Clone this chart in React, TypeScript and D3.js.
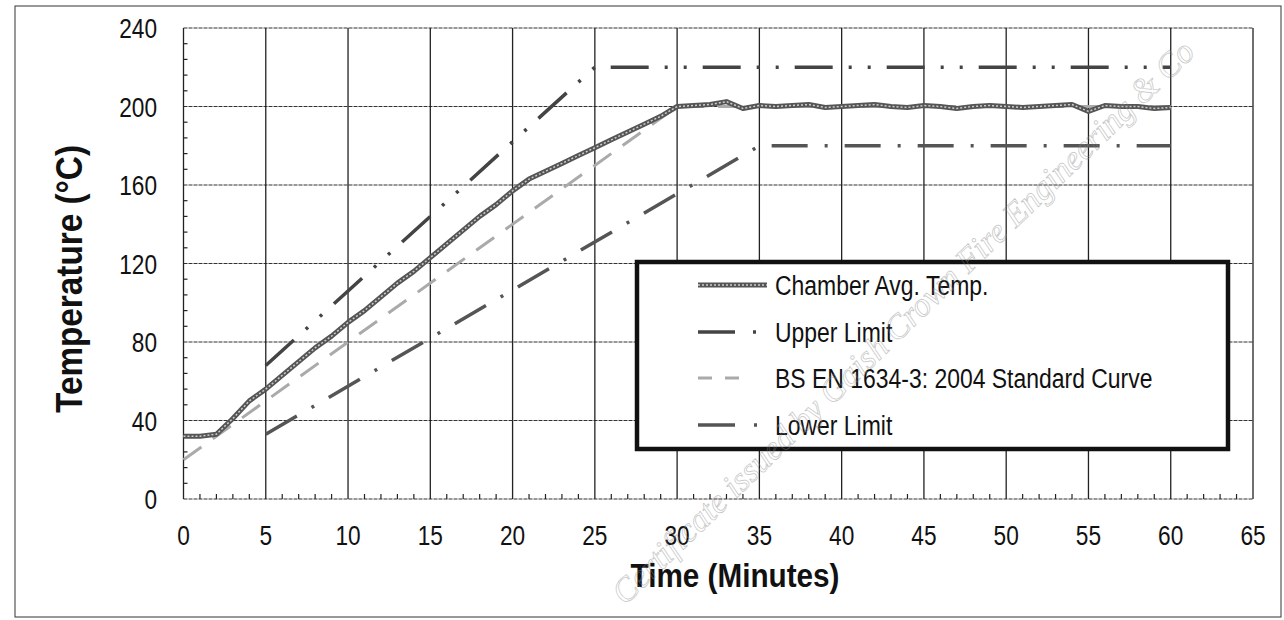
import * as d3 from "d3";
import React from "react";

// time axis in minutes, temperature in degrees C
const xTicks = [0, 5, 10, 15, 20, 25, 30, 35, 40, 45, 50, 55, 60, 65];
const yTicks = [0, 40, 80, 120, 160, 200, 240];

// chamber average temperature, one reading per minute (0..60)
const chamberMinutes = d3.range(0, 61);
const chamberTemp = [
  32, 32, 33, 41, 50, 56, 63, 70, 77, 83, 90, 96, 103, 110, 116, 123, 130, 137, 144, 150,
  157, 163, 167, 171, 175, 179, 183, 187, 191, 195, 200, 200.5, 201, 202.5, 199, 200.5,
  200, 200.5, 201, 199.5, 200, 200.5, 201, 200, 199.5, 200.5, 200, 199, 200, 200.5, 200,
  199.5, 200, 200.5, 201, 197.5, 200.5, 200, 200, 199, 199.5,
];

const upperMinutes = [5, 25, 60];
const upperTemp = [68, 220, 220];

const standardMinutes = [0, 30, 60];
const standardTemp = [20, 200, 200];

const lowerMinutes = [5, 35, 60];
const lowerTemp = [33, 180, 180];

const legendLabels = [
  "Chamber Avg. Temp.",
  "Upper Limit",
  "BS EN 1634-3: 2004 Standard Curve",
  "Lower Limit",
];

const W = 1284;
const H = 620;
const FONT = "'Liberation Sans', Arial, sans-serif";

const Txt = ({ x, y, size, text, anchor = "middle", bold = false, sx = 0.84, rot = 0 }) => (
  <g transform={`translate(${x},${y}) rotate(${rot}) scale(${sx},1)`}>
    <text
      textAnchor={anchor}
      fontFamily={FONT}
      fontSize={size}
      fontWeight={bold ? "bold" : "normal"}
      fill="#111"
    >
      {text}
    </text>
  </g>
);

const App = () => {
  const x = d3.scaleLinear().domain([0, 65]).range([183.5, 1253]);
  const y = d3.scaleLinear().domain([0, 240]).range([499, 28]);

  const line = d3
    .line<[number, number]>()
    .x((d) => x(d[0]))
    .y((d) => y(d[1]));

  const zip = (a: number[], b: number[]) => a.map((v, i) => [v, b[i]] as [number, number]);

  const minorX = d3.range(0, 66).filter((d) => d % 5 !== 0);
  const minorY = d3.range(0, 241, 8).filter((d) => d % 40 !== 0);

  const legend = { x: 637, y: 262, w: 591, h: 187 };
  const rowY = [285, 332, 378, 425];

  return (
    <svg
      width={W}
      height={H}
      style={{ position: "absolute", left: 0, top: 0, background: "#fff" }}
    >
      {/* scan frame */}
      <rect x={15} y={6} width={1266} height={611} fill="none" stroke="#333" strokeWidth={1} />

      {/* grid */}
      {yTicks.map((t) => (
        <line
          key={"gy" + t}
          x1={x(0)}
          x2={x(65)}
          y1={y(t)}
          y2={y(t)}
          stroke="#333"
          strokeWidth={1.2}
          strokeDasharray="4,1"
        />
      ))}
      {xTicks.map((t) => (
        <line
          key={"gx" + t}
          x1={x(t)}
          x2={x(t)}
          y1={y(0)}
          y2={y(240)}
          stroke="#222"
          strokeWidth={1.3}
        />
      ))}
      {minorX.map((t) => (
        <line key={"mx" + t} x1={x(t)} x2={x(t)} y1={y(0)} y2={y(0) - 5} stroke="#222" strokeWidth={1.2} />
      ))}
      {minorY.map((t) => (
        <line key={"my" + t} x1={x(0)} x2={x(0) + 4} y1={y(t)} y2={y(t)} stroke="#222" strokeWidth={1.2} />
      ))}

      {/* tick labels */}
      {yTicks.map((t) => (
        <Txt key={"ly" + t} x={157} y={y(t) + 10} size={27} text={String(t)} anchor="end" />
      ))}
      {xTicks.map((t) => (
        <Txt key={"lx" + t} x={x(t)} y={545} size={27} text={String(t)} />
      ))}

      {/* axis titles */}
      <Txt x={82} y={279} size={37} text="Temperature (°C)" bold sx={0.9} rot={-90} />
      <Txt x={735} y={587} size={33} text="Time (Minutes)" bold sx={0.9} />

      {/* series */}
      <path
        d={line(zip(standardMinutes, standardTemp)) || ""}
        fill="none"
        stroke="#aaa"
        strokeWidth={3}
        strokeDasharray="22,14"
      />
      <path
        d={line(zip(lowerMinutes, lowerTemp)) || ""}
        fill="none"
        stroke="#555"
        strokeWidth={3.5}
        strokeDasharray="36,17,3,17"
      />
      <path
        d={line(zip(upperMinutes, upperTemp)) || ""}
        fill="none"
        stroke="#444"
        strokeWidth={3.5}
        strokeDasharray="38,16,3,16,3,16"
      />
      <path
        d={line(zip(chamberMinutes, chamberTemp)) || ""}
        fill="none"
        stroke="#555"
        strokeWidth={5}
        strokeLinejoin="round"
      />
      <path
        d={line(zip(chamberMinutes, chamberTemp)) || ""}
        fill="none"
        stroke="#ccc"
        strokeWidth={1.5}
        strokeDasharray="2,2"
      />

      {/* legend */}
      <rect
        x={legend.x}
        y={legend.y}
        width={legend.w}
        height={legend.h}
        fill="#fff"
        stroke="#111"
        strokeWidth={4.5}
      />
      <line x1={698} x2={767} y1={rowY[0]} y2={rowY[0]} stroke="#555" strokeWidth={5} />
      <line x1={698} x2={767} y1={rowY[0]} y2={rowY[0]} stroke="#ccc" strokeWidth={1.5} strokeDasharray="2,2" />
      <line x1={698} x2={768} y1={rowY[1]} y2={rowY[1]} stroke="#444" strokeWidth={3.5} strokeDasharray="37,18,3,20" />
      <line x1={698} x2={740} y1={rowY[2]} y2={rowY[2]} stroke="#aaa" strokeWidth={3} strokeDasharray="14,13" />
      <line x1={698} x2={768} y1={rowY[3]} y2={rowY[3]} stroke="#555" strokeWidth={3.5} strokeDasharray="37,19,3,20" />
      {legendLabels.map((l, i) => (
        <Txt key={l} x={775} y={rowY[i] + 10} size={27} text={l} anchor="start" sx={0.85} />
      ))}

      {/* watermark */}
      <g transform="translate(625,606) rotate(-44)" opacity={0.5}>
        <text
          fontFamily="'Liberation Serif', serif"
          fontStyle="italic"
          fontSize={34}
          fill="none"
          stroke="#888"
          strokeWidth={0.7}
        >
          Certificate issued by Gaish Crown Fire Engineering &amp; Co
        </text>
      </g>
    </svg>
  );
};

export default App;
